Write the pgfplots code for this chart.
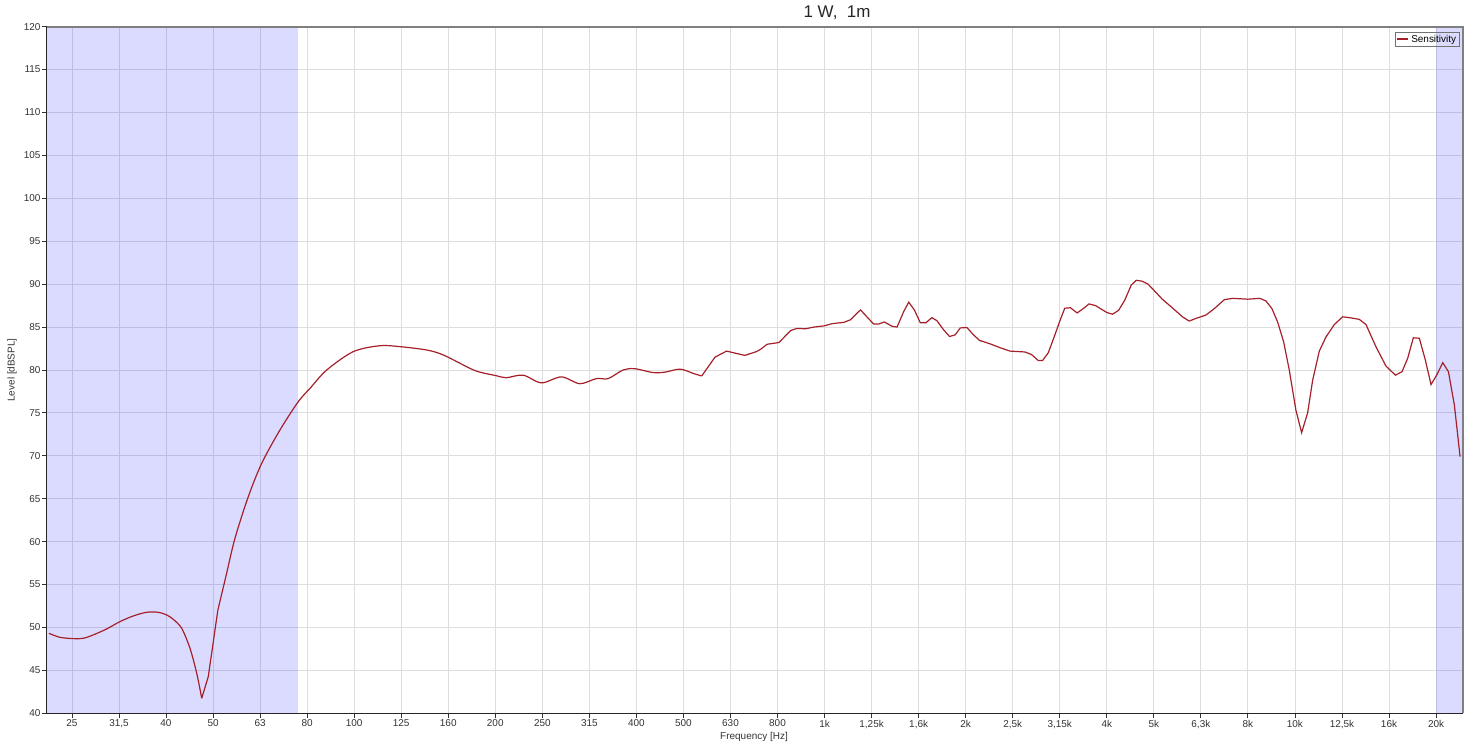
\documentclass[border=0pt]{standalone}
\usepackage{fontspec}
\setmainfont{Liberation Sans}
\usepackage{pgfplots}
\pgfplotsset{compat=1.18}
\definecolor{curve}{RGB}{165,32,42}

\begin{document}
\begin{tikzpicture}
\path[use as bounding box] (0,0) rectangle (1474bp,747bp);
\begin{axis}[
  at={(46.7bp,33.7bp)}, anchor=south west,
  scale only axis, width=1416.6bp, height=686.6bp,
  xmode=log, xmin=22.2, xmax=22800,
  ymin=40, ymax=120,
  ytick={40,45,...,120},
  xtick={25.12,31.62,39.81,50.12,63.10,79.43,100,125.89,158.49,199.53,251.19,316.23,398.11,501.19,630.96,794.33,1000,1258.9,1584.9,1995.3,2511.9,3162.3,3981.1,5011.9,6309.6,7943.3,10000,12589,15849,19953},
  xticklabels={25,{31,5},40,50,63,80,100,125,160,200,250,315,400,500,630,800,1k,{1,25k},{1,6k},2k,{2,5k},{3,15k},4k,5k,{6,3k},8k,10k,{12,5k},16k,20k},
  xminorticks=false, yminorticks=false,
  grid=major,
  major grid style={draw=black!13, line width=0.9bp},
  axis line style={draw=none},
  tick pos=left, tick align=outside,
  major tick length=5bp,
  tick style={draw=black!80, line width=0.9bp},
  /pgf/number format/assume math mode=true,
  ticklabel style={font=\fontsize{10}{12}\selectfont, text=black!80},
  yticklabel style={inner sep=1bp},
  xticklabel style={inner sep=1.5bp},
  clip=false,
  legend style={at={(rel axis cs:1,1)}, anchor=north east, xshift=-4bp, yshift=-5bp,
    draw=black!55, fill=none, font=\fontsize{10}{11}\selectfont,
    inner xsep=1bp, inner ysep=1bp},
  legend cell align=left,
  legend image code/.code={\draw[#1, line width=2bp] (0bp,0bp) -- (11bp,0bp);},
]
\fill[blue, opacity=0.14] (axis cs:22.2,40) rectangle (axis cs:75.9,120);
\fill[blue, opacity=0.14] (axis cs:19953,40) rectangle (axis cs:22800,120);

% low end, smooth part
\addplot[curve, line width=1.2bp, mark=none, smooth, tension=0.5, forget plot] coordinates {
  (22.44,49.32) (23.69,48.85) (25.28,48.70) (26.55,48.74) (27.88,49.13)
  (29.77,49.83) (31.78,50.68) (33.91,51.34) (36.22,51.77) (38.32,51.77)
  (39.94,51.46) (41.25,50.95) (42.99,49.90) (44.77,47.57) (46.27,44.66)
  (47.41,41.75)
};
\addplot[curve, line width=1.2bp, mark=none, forget plot] coordinates {
  (47.41,41.75) (48.96,44.27) (51.3,52.0)
};
\addplot[curve, line width=1.2bp, mark=none, smooth, tension=0.5, forget plot] coordinates {
  (51.3,52.0) (53.5,56.2) (55.8,60.4)
  (59.56,65.24) (63.60,69.13) (69.55,73.01) (76.07,76.31) (80.55,77.86)
  (87.43,80.0) (99.57,82.14) (113.4,82.83) (125.1,82.72) (142.6,82.33)
  (154.7,81.75) (176.3,80.19) (185,79.75) (200,79.35) (210.5,79.1)
  (228.6,79.4) (250,78.5) (275.8,79.2) (301.8,78.4) (327.4,79.0)
  (346.8,79.0) (373,80.0) (395,80.15) (432,79.7) (458,79.75)
  (493,80.1) (526,79.6) (548,79.3)
};
% upper range, straight segments
\addplot[curve, line width=1.2bp, mark=none] coordinates {
  (548,79.3) (585,81.5) (619,82.2)
  (677,81.7) (717,82.15) (731,82.4) (755,83.0) (800,83.2)
  (847,84.6) (875,84.85) (911,84.8) (949,85.0) (1000,85.15)
  (1038,85.4) (1099,85.55) (1135,85.85) (1192,87.0) (1272,85.35)
  (1303,85.35) (1340,85.6) (1391,85.1) (1426,85.0) (1473,86.8)
  (1510,87.9) (1552,87.0) (1598,85.5) (1642,85.5) (1691,86.1)
  (1733,85.75) (1790,84.7) (1844,83.9) (1896,84.1) (1943,84.9)
  (2007,84.95) (2073,84.1) (2135,83.45) (2248,83.05) (2361,82.6)
  (2479,82.2) (2667,82.1) (2755,81.8) (2846,81.1) (2907,81.1)
  (2989,82.0) (3075,83.8) (3163,85.7) (3241,87.2) (3333,87.25)
  (3444,86.65) (3548,87.15) (3649,87.7) (3769,87.5) (3981,86.7)
  (4095,86.5) (4217,86.95) (4344,88.1) (4488,89.9) (4600,90.45)
  (4730,90.35) (4873,90.0) (5012,89.3) (5223,88.25) (5486,87.25)
  (5765,86.2) (5957,85.7) (6154,86.0) (6467,86.4) (6739,87.15)
  (7080,88.2) (7377,88.35) (7943,88.25) (8414,88.35) (8676,88.05)
  (8935,87.15) (9186,85.6) (9460,83.3) (9726,80.0) (10049,75.3)
  (10332,72.7) (10641,75.0) (10905,78.8) (11266,82.2) (11641,83.85)
  (12127,85.3) (12630,86.2) (13049,86.1) (13703,85.9) (14156,85.3)
  (14870,82.7) (15616,80.45) (16353,79.4) (16891,79.8) (17363,81.35)
  (17853,83.75) (18387,83.7) (18938,81.15) (19469,78.3) (20010,79.4)
  (20621,80.85) (21200,79.8) (21827,75.9) (22441,69.9)
};
\addlegendentry{Sensitivity}

\draw[black!50, line width=2bp] (rel axis cs:0,1) -- (rel axis cs:1,1) -- (rel axis cs:1,0);
\draw[black!85, line width=1.2bp] (rel axis cs:0,1) -- (rel axis cs:0,0) -- (rel axis cs:1,0);
\end{axis}
\node[font=\fontsize{17}{19}\selectfont, text=black!85] at (837bp,734bp) {1 W,\ \ 1m};
\node[rotate=90, font=\fontsize{10}{12}\selectfont, text=black!80] at (12bp,377bp) {Level [dBSPL]};
\node[font=\fontsize{10}{12}\selectfont, text=black!80] at (754bp,10.3bp) {Frequency [Hz]};
\end{tikzpicture}
\end{document}
